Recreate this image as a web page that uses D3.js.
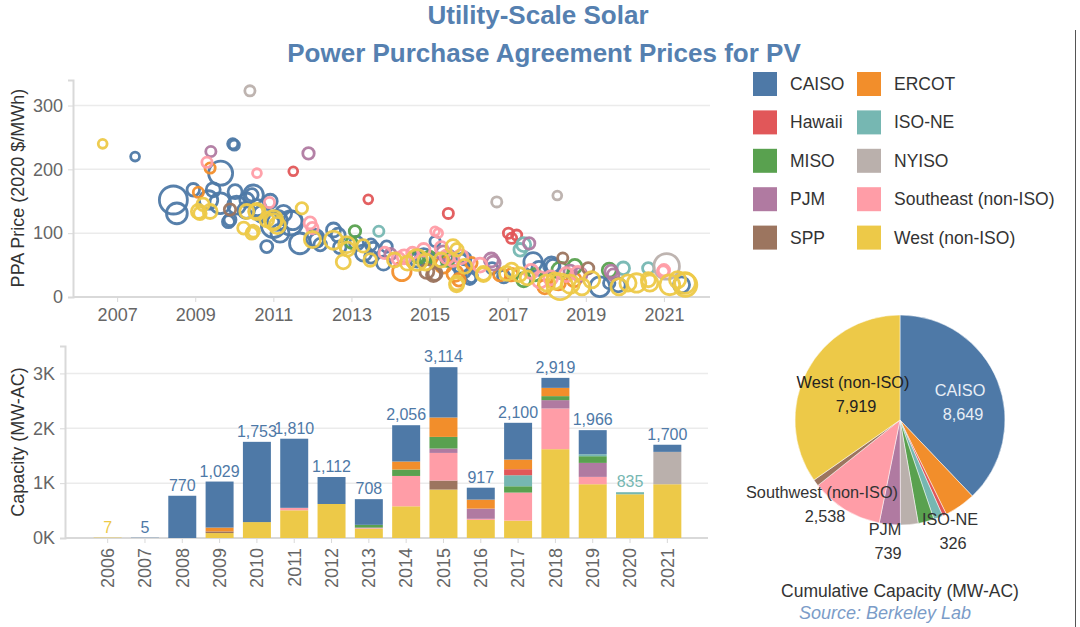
<!DOCTYPE html>
<html><head><meta charset="utf-8">
<script src="https://cdn.jsdelivr.net/npm/d3@7"></script>
<style>body{margin:0;background:#fff;} svg{display:block;font-family:"Liberation Sans",Arial,sans-serif;}</style>
</head><body><svg id="c" width="1080" height="627"></svg>
<script>
// ---------- DATA ----------
const regions = ["CAISO","ERCOT","Hawaii","ISO-NE","MISO","NYISO","PJM","Southeast (non-ISO)","SPP","West (non-ISO)"];
const regionColors = ["#4e79a7","#f28e2b","#e15759","#76b7b2","#59a14f","#bab0ac","#b07aa1","#ff9da7","#9c755f","#edc948"];

// PPA scatter: [year, price $/MWh, capacity MW]
const ppaCAISO = [[2007.46,220,60],[2008.44,152,600],[2008.53,131,330],[2008.95,168,120],[2009.34,152,260],[2009.46,168,150],[2009.64,147,330],[2009.65,194,440],[2009.85,118,110],[2009.89,121,110],[2009.96,240,80],[2010.0,238,80],[2010.02,165,150],[2010.06,144,250],[2010.32,152,150],[2010.45,160,120],[2010.49,160,300],[2010.3,136,200],[2010.6,140,200],[2010.7,130,200],[2010.92,150,150],[2010.83,79,110],[2011.0,112,440],[2011.1,120,300],[2011.44,116,440],[2011.5,120,260],[2011.26,131,200],[2011.17,100,250],[2011.68,84,330],[2012.07,92,250],[2012.11,89,150],[2012.2,82,120],[2012.54,105,150],[2012.66,97,150],[2012.7,78,120],[2013.13,84,150],[2013.31,69,200],[2013.5,82,100],[2013.56,76,120],[2013.5,63,120],[2013.82,53,150],[2013.9,79,100],[2014.68,58,150],[2014.85,63,200],[2015.14,87,80],[2015.2,58,150],[2015.5,62,150],[2015.78,53,260],[2015.85,42,200],[2015.9,60,120],[2016.03,29,110],[2016.07,32,110],[2016.6,45,100],[2016.9,32,120],[2017.65,55,260],[2017.8,45,150],[2018.12,50,200],[2018.16,48,150],[2019.36,16,300],[2019.6,22,100],[2019.83,19,150],[2021.45,19,200]];
const ppaERCOT = [[2009.08,164,80],[2009.38,202,80],[2014.29,40,260],[2015.35,50,200],[2015.65,37,200],[2015.75,27,120],[2016.07,53,100],[2016.8,35,120],[2017.1,35,120],[2017.95,16,150],[2018.3,22,150],[2018.7,27,150]];
const ppaHawaii = [[2011.51,197,60],[2013.43,153,60],[2015.48,131,80],[2017.02,100,80],[2017.23,97,80],[2017.1,92,80]];
const ppaISONE = [[2013.70,103,80],[2017.41,82,150],[2017.32,74,120],[2019.96,45,120],[2020.6,45,100]];
const ppaMISO = [[2013.0,85,100],[2013.09,103,100],[2014.7,63,120],[2014.9,60,100],[2015.0,63,100],[2015.45,58,120],[2017.41,27,150],[2017.7,35,120],[2018.34,42,200],[2018.72,48,150],[2019.6,42,150]];
const ppaNYISO = [[2010.4,323,80],[2016.72,149,80],[2018.27,159,60],[2021.07,48,500]];
const ppaPJM = [[2009.40,228,80],[2011.90,225,100],[2014.0,67,100],[2015.35,69,150],[2016.58,58,150],[2016.63,53,150],[2017.55,84,100],[2018.6,40,120],[2018.85,35,150],[2019.65,40,120],[2019.70,35,100]];
const ppaSoutheast = [[2009.30,211,80],[2010.58,194,60],[2010.9,148,80],[2011.94,116,110],[2012.0,108,100],[2013.85,69,100],[2014.2,60,120],[2014.35,63,150],[2014.56,69,100],[2014.85,74,120],[2015.14,103,60],[2015.22,100,60],[2015.3,77,120],[2015.45,63,150],[2015.6,58,120],[2015.8,63,150],[2016.29,50,150],[2017.6,40,150],[2017.83,27,200],[2018.1,30,150],[2018.5,35,150],[2018.8,37,150],[2020.98,40,100],[2021.0,42,100]];
const ppaSPP = [[2009.89,137,100],[2014.93,40,150],[2015.10,35,150],[2015.14,37,150],[2018.41,61,80],[2019.06,45,100]];
const ppaWest = [[2006.63,240,60],[2009.08,134,150],[2009.12,131,120],[2009.38,134,150],[2009.2,145,120],[2010.24,108,110],[2010.45,100,110],[2010.32,134,150],[2010.49,103,110],[2010.55,134,150],[2010.58,134,200],[2010.83,121,150],[2011.0,121,260],[2011.0,118,200],[2011.1,112,200],[2011.73,139,100],[2012.0,90,200],[2012.54,89,250],[2012.79,55,150],[2012.88,82,200],[2012.9,75,150],[2013.3,80,120],[2013.48,58,120],[2014.1,58,150],[2014.43,53,150],[2014.68,58,330],[2014.9,55,200],[2015.3,58,150],[2015.6,79,150],[2015.69,19,150],[2015.7,74,120],[2015.7,22,150],[2015.9,48,150],[2016.38,35,150],[2016.38,37,150],[2016.97,37,150],[2017.1,42,150],[2017.3,35,150],[2017.5,30,150],[2018.0,22,200],[2018.2,25,200],[2018.34,16,500],[2018.6,20,250],[2018.9,16,200],[2019.15,27,200],[2019.85,16,200],[2020.08,22,200],[2020.3,22,260],[2020.6,27,150],[2020.64,22,200],[2021.15,19,300],[2021.35,27,200],[2021.54,22,330],[2021.55,19,400]];
const ppaByRegion = [ppaCAISO,ppaERCOT,ppaHawaii,ppaISONE,ppaMISO,ppaNYISO,ppaPJM,ppaSoutheast,ppaSPP,ppaWest];

// Annual capacity (MW-AC)
const years = ["2006","2007","2008","2009","2010","2011","2012","2013","2014","2015","2016","2017","2018","2019","2020","2021"];
const capCAISO     = [0,5,770,839,1463,1260,492,468,662,917,217,670,182,439,0,130];
const capERCOT     = [0,0,0,70,0,0,0,0,146,354,164,176,151,0,0,0];
const capHawaii    = [0,0,0,0,0,0,0,0,0,0,0,110,0,0,0,0];
const capISONE     = [0,0,0,0,0,0,0,0,0,0,0,201,0,36,38,0];
const capMISO      = [0,0,0,0,0,0,0,50,117,212,0,115,73,122,0,0];
const capNYISO     = [0,0,0,0,0,0,0,0,0,0,0,0,0,0,0,590];
const capPJM       = [0,0,0,0,0,0,0,10,0,80,186,0,152,255,0,0];
const capSoutheast = [0,0,0,0,0,45,0,10,553,504,20,511,742,134,0,0];
const capSPP       = [0,0,0,30,0,0,0,0,0,164,0,0,0,0,0,0];
const capWest      = [7,0,0,90,290,505,620,170,578,883,330,317,1619,980,797,980];
const capByRegion = [capCAISO,capERCOT,capHawaii,capISONE,capMISO,capNYISO,capPJM,capSoutheast,capSPP,capWest];

// Cumulative capacity (pie)
const cumulative = [8649,1100,140,326,560,620,739,2538,230,7919];

const priceTicks = [0,100,200,300];
const yearTicks = [2007,2009,2011,2013,2015,2017,2019,2021];
const capTicks = [0,1000,2000,3000];

// ---------- DRAW ----------
const svg = d3.select("#c");
const color = d3.scaleOrdinal(regions, regionColors);
const fmt = d3.format(",");
const gridC = "#ebebeb", axisC = "#d9d9d9", tickTxt = "#666";

// Titles
svg.append("text").attr("x",538).attr("y",24).attr("text-anchor","middle")
  .attr("font-size",26).attr("font-weight","bold").attr("fill","#5580b0").text("Utility-Scale Solar");
svg.append("text").attr("x",544).attr("y",62).attr("text-anchor","middle")
  .attr("font-size",26).attr("font-weight","bold").attr("fill","#5580b0").text("Power Purchase Agreement Prices for PV");

// ---- Scatter ----
const sx = d3.scaleLinear().domain([2005.87, 2022.18]).range([73, 710]);
const sy = d3.scaleLinear().domain([0, 340]).range([297, 80]);
const sr = d3.scaleSqrt().domain([0, 600]).range([0, 14]);

const g1 = svg.append("g");
g1.append("g").selectAll("line").data(priceTicks.filter(d=>d>0)).join("line")
  .attr("x1",73).attr("x2",710).attr("y1",d=>sy(d)).attr("y2",d=>sy(d))
  .attr("stroke",gridC).attr("stroke-width",1.5);
const ay1 = g1.append("g").attr("transform","translate(73,0)")
  .call(d3.axisLeft(sy).tickValues(priceTicks).tickSize(5).tickPadding(5));
const ax1 = g1.append("g").attr("transform","translate(0,297)")
  .call(d3.axisBottom(sx).tickValues(yearTicks).tickFormat(d3.format("d")).tickSize(5).tickPadding(6));
[ay1, ax1].forEach(a=>{
  a.select(".domain").attr("stroke",axisC).attr("stroke-width",2);
  a.selectAll(".tick line").attr("stroke",axisC);
  a.selectAll("text").attr("fill",tickTxt).attr("font-size",18).attr("font-family","Liberation Sans, Arial, sans-serif");
});
ax1.select(".domain").attr("d","M73,0H710");
g1.append("text").attr("transform","translate(24,188) rotate(-90)").attr("text-anchor","middle")
  .attr("font-size",18).attr("fill","#333").text("PPA Price (2020 $/MWh)");

regions.forEach((r,i)=>{
  g1.append("g").selectAll("circle").data(ppaByRegion[i]).join("circle")
    .attr("cx",d=>sx(d[0])).attr("cy",d=>sy(d[1])).attr("r",d=>sr(d[2]))
    .attr("fill","none").attr("stroke",color(r)).attr("stroke-width",2.8).attr("stroke-opacity",0.95);
});

// ---- Bars ----
const bx = d3.scaleBand().domain(years).range([89, 686]).paddingInner(0.25).paddingOuter(0.125);
const by = d3.scaleLinear().domain([0, 3500]).range([538, 346]);
const g2 = svg.append("g");
g2.append("g").selectAll("line").data(capTicks.filter(d=>d>0)).join("line")
  .attr("x1",65).attr("x2",708).attr("y1",d=>by(d)).attr("y2",d=>by(d))
  .attr("stroke",gridC).attr("stroke-width",1.5);
const ay2 = g2.append("g").attr("transform","translate(65,0)")
  .call(d3.axisLeft(by).tickValues(capTicks).tickFormat(d=>(d/1000)+"K").tickSize(5).tickPadding(5));
const ax2 = g2.append("g").attr("transform","translate(0,538)")
  .call(d3.axisBottom(bx).tickSize(5).tickPadding(6));
[ay2, ax2].forEach(a=>{
  a.select(".domain").attr("stroke",axisC).attr("stroke-width",2);
  a.selectAll(".tick line").attr("stroke",axisC);
  a.selectAll("text").attr("fill",tickTxt).attr("font-size",18).attr("font-family","Liberation Sans, Arial, sans-serif");
});
ax2.select(".domain").attr("d","M65,0H708");
ax2.selectAll(".tick text").attr("transform","rotate(-90)").attr("text-anchor","end")
  .attr("x",-10).attr("y",0).attr("dy","0.35em");
g2.append("text").attr("transform","translate(24,442) rotate(-90)").attr("text-anchor","middle")
  .attr("font-size",18).attr("fill","#333").text("Capacity (MW-AC)");

// stack order bottom -> top: reverse alphabetical
const stackOrder = regions.slice().reverse();
const rows = years.map((y,j)=>{ const o={year:y}; regions.forEach((r,i)=>o[r]=capByRegion[i][j]); return o; });
const stack = d3.stack().keys(stackOrder)(rows);
stack.forEach(layer=>{
  g2.append("g").attr("fill",color(layer.key)).selectAll("rect").data(layer).join("rect")
    .attr("x",d=>bx(d.data.year)).attr("width",bx.bandwidth())
    .attr("y",d=>by(d[1])).attr("height",d=>Math.max(0,by(d[0])-by(d[1])));
});
g2.append("g").selectAll("text").data(rows).join("text")
  .attr("x",d=>bx(d.year)+bx.bandwidth()/2)
  .attr("y",d=>by(d3.sum(regions,r=>d[r]))-5)
  .attr("text-anchor","middle").attr("font-size",16)
  .attr("fill",d=>{ const top = stackOrder.slice().reverse().find(r=>d[r]>0); return color(top); })
  .text(d=>fmt(d3.sum(regions,r=>d[r])));

// ---- Legend ----
const lg = svg.append("g");
regions.forEach((r,i)=>{
  const col = i%2, row = Math.floor(i/2);
  const x = col ? 857 : 753, y = 72 + row*38.4;
  lg.append("rect").attr("x",x).attr("y",y).attr("width",24).attr("height",24).attr("fill",color(r));
  lg.append("text").attr("x",x+37).attr("y",y+18).attr("font-size",17.5).attr("fill","#333").text(r);
});

// ---- Pie ----
const cx = 900, cy = 420, R = 105;
const pie = d3.pie().sort(null).value(d=>d.v);
const arcs = pie(regions.map((r,i)=>({r, v:cumulative[i]})));
const arc = d3.arc().innerRadius(0).outerRadius(R);
const pg = svg.append("g").attr("transform",`translate(${cx},${cy})`);
pg.selectAll("path").data(arcs).join("path").attr("d",arc)
  .attr("fill",d=>color(d.data.r)).attr("stroke","#fff").attr("stroke-width",0.5);
const pieLabels = [
  {r:"CAISO", name:"CAISO", dx:60, dy:-24, fill:"#e8eef6"},
  {r:"West (non-ISO)", name:"West (non-ISO)", dx:-47, dy:-32, fill:"#222"},
  {r:"Southeast (non-ISO)", name:"Southwest (non-ISO)", dx:-78, dy:78, fill:"#333"},
  {r:"PJM", name:"PJM", dx:-15, dy:115, fill:"#333"},
  {r:"ISO-NE", name:"ISO-NE", dx:50, dy:105, fill:"#333"}
];
pieLabels.forEach(L=>{
  const v = cumulative[regions.indexOf(L.r)];
  const t = pg.append("text").attr("text-anchor","middle").attr("font-size",16.3).attr("fill",L.fill);
  t.append("tspan").attr("x",L.dx).attr("y",L.dy).text(L.name);
  t.append("tspan").attr("x",L.dx+3).attr("y",L.dy+24).text(fmt(v));
});
svg.append("text").attr("x",900).attr("y",597).attr("text-anchor","middle").attr("font-size",17.5)
  .attr("fill","#333").text("Cumulative Capacity (MW-AC)");
svg.append("text").attr("x",885).attr("y",619).attr("text-anchor","middle").attr("font-size",18)
  .attr("font-style","italic").attr("fill","#7b9cc8").text("Source: Berkeley Lab");

// right frame edge
svg.append("line").attr("x1",1075.5).attr("x2",1075.5).attr("y1",30).attr("y2",627).attr("stroke","#555").attr("stroke-width",1);
</script></body></html>
